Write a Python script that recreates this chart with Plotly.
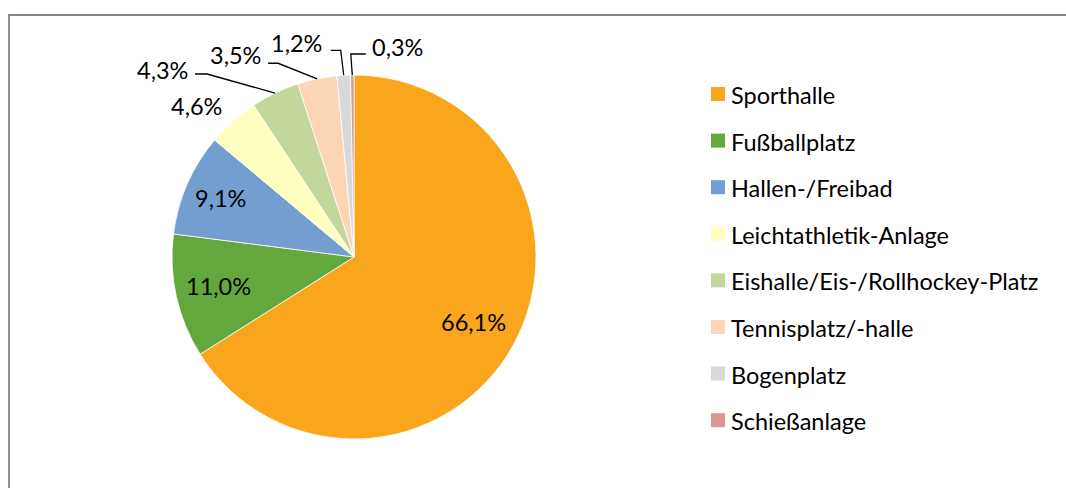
import math
import plotly.graph_objects as go

W, H = 1066, 488

categories = ["Sporthalle", "Fußballplatz", "Hallen-/Freibad", "Leichtathletik-Anlage",
              "Eishalle/Eis-/Rollhockey-Platz", "Tennisplatz/-halle", "Bogenplatz", "Schießanlage"]
shares = [66.1, 11.0, 9.1, 4.6, 4.3, 3.5, 1.2, 0.3]
colors = ["#F9A61C", "#63A83D", "#729FCF", "#FFFFBF", "#C4D79B", "#FCD5B5", "#D9D9D9", "#D99694"]

# layout constants (pixels)
CX, CY, R = 354, 257, 182
FONT = "Lato"
FS = 23.5
TXT = "#000000"

def px(x):
    return x / W

def py(y):
    return 1 - y / H

total = sum(shares)
mids = []
cum = 0.0
for v in shares:
    mids.append((cum + v / 2) / total * 2 * math.pi)
    cum += v

def point(i, rfrac):
    a = mids[i]
    return CX + rfrac * R * math.sin(a), CY - rfrac * R * math.cos(a)

def fmt(v):
    return f"{v:.1f}".replace(".", ",") + "%"

fig = go.Figure(go.Pie(
    labels=categories, values=shares, sort=False, direction="clockwise", rotation=0,
    marker=dict(colors=colors, line=dict(color="white", width=0.8)),
    textinfo="none", hoverinfo="label+percent", showlegend=False,
    domain=dict(x=[px(CX - R), px(CX + R)], y=[py(CY + R), py(CY - R)]),
))

annotations = []
shapes = []

# inside labels
inside_r = {0: 0.75, 1: 0.76, 2: 0.80}
for i, rf in inside_r.items():
    x, y = point(i, rf)
    annotations.append(dict(x=px(x), y=py(y - 1), xref="paper", yref="paper", text=fmt(shares[i]),
                             showarrow=False, xanchor="center", yanchor="middle",
                             font=dict(family=FONT, size=FS, color=TXT)))

# outside labels: (elbow offset, end offset, text offset, xanchor)
outside = {
    3: (None, None, (-36, -15), "center"),
    4: ((-68, -19), (-80, -19), (-5, -4), "right"),
    5: ((-39, -15.5), (-49, -15.5), (-5, -8), "right"),
    6: ((-3, -25), (-13, -25), (-7, -7), "right"),
    7: ((-1.5, -21), (13.5, -21), (4, -7), "left"),
}
for i, (elb, end, toff, anc) in outside.items():
    ex, ey = point(i, 1.0)
    if elb is None:
        tx, ty = ex + toff[0], ey + toff[1]
    else:
        bx, by = ex + elb[0], ey + elb[1]
        nx, ny = ex + end[0], ey + end[1]
        shapes.append(dict(type="path", xref="paper", yref="paper",
                           path=f"M {px(ex)} {py(ey)} L {px(bx)} {py(by)} L {px(nx)} {py(ny)}",
                           line=dict(color="#000000", width=1.3)))
        tx, ty = nx + toff[0], ny + toff[1]
    annotations.append(dict(x=px(tx), y=py(ty), xref="paper", yref="paper", text=fmt(shares[i]),
                             showarrow=False, xanchor=anc, yanchor="middle",
                             font=dict(family=FONT, size=FS, color=TXT)))

# legend
LX, LY0, LDY, SQ = 711, 94, 46.6, 14
for i, (c, col) in enumerate(zip(categories, colors)):
    yc = LY0 + i * LDY
    shapes.append(dict(type="rect", xref="paper", yref="paper",
                       x0=px(LX), x1=px(LX + SQ), y0=py(yc + SQ / 2), y1=py(yc - SQ / 2),
                       fillcolor=col, line=dict(width=0)))
    annotations.append(dict(x=px(LX + SQ + 4), y=py(yc + 1), xref="paper", yref="paper", text=c,
                             showarrow=False, xanchor="left", yanchor="middle",
                             font=dict(family=FONT, size=FS, color=TXT)))

# chart border
shapes.append(dict(type="rect", xref="paper", yref="paper", x0=px(9), x1=1.05, y0=-0.05, y1=py(15),
                   line=dict(color="#868686", width=1.8), fillcolor="rgba(0,0,0,0)"))

fig.update_layout(width=W, height=H, autosize=False, margin=dict(l=0, r=0, t=0, b=0),
                  paper_bgcolor="white", plot_bgcolor="white",
                  annotations=annotations, shapes=shapes,
                  font=dict(family=FONT, size=FS, color=TXT))

fig.write_html("out.html", config={"displayModeBar": False},
               post_script="document.body.style.margin='0';document.body.style.overflow='hidden';")
